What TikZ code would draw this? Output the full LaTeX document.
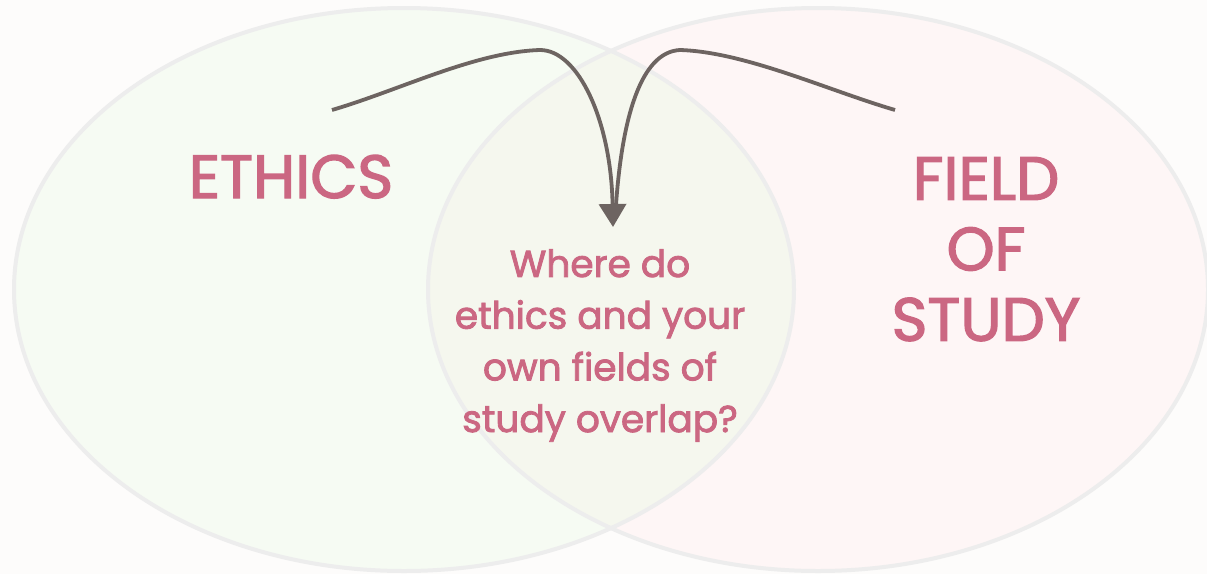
\documentclass[tikz,border=0pt]{standalone}
\usepackage{fontspec}
\setmainfont{Poppins}
\newfontfamily\labelfont{Poppins}[FakeBold=2.2]
\usetikzlibrary{arrows.meta}
\definecolor{pagebg}{HTML}{FDFCFB}
\definecolor{ethicsfill}{HTML}{F6FBF3}
\definecolor{fieldfill}{HTML}{FEF6F6}
\definecolor{overlapfill}{HTML}{F5F7EE}
\definecolor{rim}{HTML}{EDEDED}
\definecolor{rose}{HTML}{CB6782}
\definecolor{ink}{HTML}{6D6461}
\begin{document}
\begin{tikzpicture}[x=1pt,y=-1pt,
  rimline/.style={draw=rim,line width=4pt},
  bigword/.style={text=rose,font=\labelfont\fontsize{61}{70.5}\selectfont,align=center,inner sep=0pt},
  question/.style={text=rose,font=\labelfont\fontsize{37.5}{51.7}\selectfont,align=center,inner sep=0pt},
  curve/.style={draw=ink,line width=3.8pt}]
% page
\fill[pagebg] (0,0) rectangle (1207,574);
\useasboundingbox (0,0) rectangle (1207,574);
% the two sets
\fill[ethicsfill] (404,289.5) ellipse [x radius=390pt, y radius=281.5pt];
\fill[fieldfill] (818,289.5) ellipse [x radius=390pt, y radius=281.5pt];
\begin{scope}
  \clip (404,289.5) ellipse [x radius=390pt, y radius=281.5pt];
  \fill[overlapfill] (818,289.5) ellipse [x radius=390pt, y radius=281.5pt];
\end{scope}
\draw[rimline] (404,289.5) ellipse [x radius=390pt, y radius=281.5pt];
\draw[rimline] (818,289.5) ellipse [x radius=390pt, y radius=281.5pt];
% labels
\node[bigword, anchor=base] (ethics) at (291,198) {ETHICS};
\node[bigword, anchor=north] (field) at (986,157) {FIELD\\OF\\STUDY};
\node[question, anchor=north] (overlap) at (600,249) {Where do\\ethics and your\\own fields of\\study overlap?};
% connectors meeting in the overlap
\coordinate (ethicsTail) at (332,110);
\coordinate (fieldTail) at (895,110);
\coordinate (tip) at (613,227);
\coordinate (join) at (616,205);
\draw[curve,-{Triangle[width=27pt,length=23pt]}] (ethicsTail)
  .. controls (400,90) and (475,52) .. (540,50)
  .. controls (578,50) and (611,120) .. (tip);
\draw[curve] (fieldTail)
  .. controls (827,90) and (745,52) .. (680,50)
  .. controls (640,52) and (622,120) .. (join);
\end{tikzpicture}
\end{document}
